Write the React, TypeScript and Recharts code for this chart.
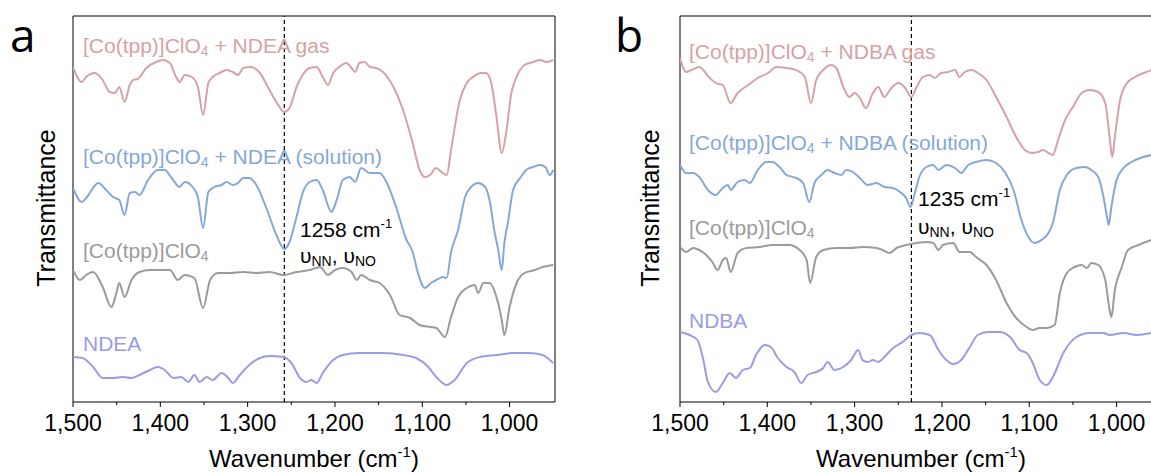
import React from 'react';
import { LineChart, Line, XAxis, YAxis, ReferenceLine } from 'recharts';

// Wavenumber (cm-1), transmittance (a.u., offset stacked)
const ndeaGas: [number, number][] = [[1500,335],[1490,320],[1485,325],[1475,329],[1466,322],[1458,310],[1452,309],[1447,315],[1441,300],[1435,317],[1431,322],[1426,323],[1416,334],[1405,340],[1397,342],[1389,339],[1382,325],[1378,320],[1372,327],[1364,325],[1357,315],[1351,287],[1345,319],[1340,325],[1332,329],[1324,332],[1317,330],[1311,327],[1305,334],[1296,335],[1286,329],[1275,312],[1265,297],[1258,290],[1252,294],[1244,315],[1237,327],[1229,334],[1221,335],[1214,325],[1208,317],[1202,329],[1195,335],[1187,339],[1181,334],[1177,330],[1172,339],[1166,340],[1160,335],[1153,334],[1145,330],[1133,315],[1122,292],[1111,259],[1103,232],[1097,225],[1091,227],[1084,234],[1078,230],[1072,227],[1067,252],[1057,302],[1049,319],[1042,325],[1032,329],[1027,329],[1021,319],[1015,285],[1009,249],[1004,269],[998,309],[992,325],[983,337],[973,340],[965,342],[958,340],[950,342]];
const ndeaSolution: [number, number][] = [[1500,214],[1490,200],[1485,204],[1471,219],[1462,212],[1454,205],[1447,202],[1441,187],[1435,209],[1429,210],[1424,207],[1414,222],[1403,232],[1395,232],[1387,224],[1378,215],[1372,220],[1363,215],[1357,205],[1351,174],[1345,210],[1338,215],[1330,217],[1324,220],[1317,217],[1311,219],[1305,224],[1298,224],[1290,217],[1279,195],[1267,167],[1258,153],[1252,160],[1244,185],[1237,209],[1229,220],[1221,222],[1214,212],[1204,190],[1198,202],[1191,222],[1183,225],[1177,220],[1170,234],[1160,229],[1149,229],[1141,220],[1130,195],[1118,162],[1111,150],[1105,129],[1097,114],[1090,119],[1084,122],[1076,125],[1072,124],[1067,150],[1059,172],[1051,205],[1044,215],[1036,219],[1028,215],[1023,202],[1017,169],[1013,152],[1009,132],[1006,159],[1002,179],[996,212],[988,224],[981,232],[973,235],[965,237],[959,235],[954,227],[950,232]];
const coTppA: [number, number][] = [[1500,132],[1492,122],[1485,127],[1477,130],[1466,115],[1456,95],[1450,110],[1447,119],[1441,105],[1433,122],[1424,130],[1412,132],[1401,132],[1389,132],[1380,122],[1372,127],[1361,124],[1351,94],[1343,122],[1334,129],[1321,129],[1305,130],[1290,129],[1275,130],[1259,127],[1244,130],[1229,132],[1217,135],[1208,127],[1200,132],[1191,134],[1181,130],[1175,122],[1170,127],[1160,122],[1149,119],[1137,107],[1126,87],[1114,84],[1103,77],[1091,75],[1084,74],[1074,65],[1067,85],[1059,105],[1049,114],[1040,117],[1036,109],[1030,119],[1023,119],[1015,105],[1009,82],[1006,67],[1000,95],[992,119],[983,129],[971,132],[962,135],[950,137]];
const ndea: [number, number][] = [[1500,45],[1489,44],[1477,35],[1466,24],[1454,24],[1443,25],[1433,24],[1424,27],[1412,32],[1403,35],[1395,32],[1385,24],[1376,25],[1368,20],[1361,27],[1355,20],[1347,25],[1340,22],[1330,29],[1322,24],[1317,19],[1309,27],[1298,37],[1286,44],[1275,46],[1259,45],[1250,39],[1240,24],[1233,20],[1227,22],[1221,19],[1214,29],[1202,42],[1191,47],[1172,49],[1145,49],[1122,47],[1107,44],[1093,35],[1084,25],[1072,17],[1063,22],[1049,39],[1034,45],[1015,47],[996,49],[979,49],[962,47],[954,42],[950,39]];

const ndbaGas: [number, number][] = [[1500,344],[1493,330],[1487,332],[1478,335],[1466,324],[1459,319],[1451,317],[1442,299],[1434,309],[1422,317],[1411,324],[1399,329],[1390,335],[1378,334],[1367,332],[1357,325],[1350,299],[1344,322],[1336,332],[1327,337],[1321,334],[1313,315],[1306,305],[1300,309],[1294,304],[1287,294],[1279,309],[1273,315],[1266,305],[1258,314],[1250,319],[1243,315],[1235,305],[1229,315],[1222,325],[1214,327],[1208,324],[1201,329],[1193,330],[1185,332],[1180,325],[1174,330],[1166,332],[1159,329],[1149,322],[1138,305],[1126,285],[1115,265],[1105,252],[1097,249],[1090,250],[1084,252],[1078,249],[1073,247],[1067,262],[1059,282],[1050,295],[1040,309],[1031,312],[1021,310],[1013,299],[1008,265],[1005,245],[1002,265],[996,302],[988,319],[979,325],[969,329],[960,332]];
const ndbaSolution: [number, number][] = [[1500,237],[1493,229],[1485,229],[1478,225],[1468,212],[1459,207],[1451,214],[1445,217],[1442,212],[1434,220],[1426,222],[1420,219],[1411,232],[1401,240],[1394,240],[1386,235],[1378,227],[1367,224],[1359,219],[1352,200],[1346,219],[1338,227],[1331,232],[1323,229],[1315,227],[1310,232],[1302,230],[1294,224],[1285,217],[1275,219],[1266,215],[1256,214],[1248,210],[1241,204],[1236,195],[1231,209],[1226,225],[1218,235],[1210,237],[1204,232],[1195,237],[1185,234],[1178,229],[1170,237],[1161,240],[1149,242],[1138,239],[1128,230],[1118,212],[1109,182],[1101,165],[1094,159],[1086,162],[1078,169],[1073,179],[1065,212],[1057,227],[1046,234],[1036,235],[1029,232],[1021,225],[1015,205],[1011,185],[1009,177],[1006,195],[1000,222],[992,234],[983,240],[973,244],[960,247]];
const coTppB: [number, number][] = [[1500,155],[1493,150],[1485,154],[1478,152],[1470,147],[1463,140],[1457,132],[1451,142],[1447,144],[1442,130],[1434,149],[1424,154],[1409,155],[1394,157],[1375,157],[1363,152],[1355,142],[1351,119],[1344,145],[1336,152],[1321,154],[1306,154],[1290,155],[1275,154],[1268,152],[1260,149],[1252,154],[1241,157],[1229,159],[1218,160],[1210,159],[1204,152],[1199,157],[1187,159],[1180,150],[1168,150],[1161,145],[1149,137],[1138,122],[1126,99],[1115,84],[1103,75],[1096,72],[1088,74],[1080,74],[1071,77],[1065,109],[1057,129],[1048,135],[1040,137],[1034,134],[1029,139],[1021,137],[1013,122],[1008,92],[1006,85],[1002,112],[994,135],[987,152],[975,157],[960,162]];
const ndba: [number, number][] = [[1500,70],[1489,67],[1480,62],[1474,45],[1468,20],[1459,10],[1451,19],[1443,29],[1436,24],[1428,32],[1420,34],[1413,47],[1403,57],[1396,55],[1388,44],[1378,35],[1369,30],[1361,19],[1354,27],[1344,30],[1336,34],[1331,40],[1323,32],[1313,35],[1304,42],[1296,52],[1291,42],[1285,40],[1279,42],[1273,40],[1266,45],[1256,54],[1245,60],[1235,67],[1226,69],[1214,67],[1204,52],[1195,42],[1187,38],[1178,42],[1168,55],[1159,67],[1147,70],[1134,70],[1122,65],[1111,52],[1103,49],[1096,39],[1088,22],[1080,17],[1073,25],[1061,49],[1046,65],[1031,69],[1015,69],[1008,67],[992,69],[977,67],[960,69]];

const xTicks = [1500, 1450, 1400, 1350, 1300, 1250, 1200, 1150, 1100, 1050, 1000];
const markerA = 1258;
const markerB = 1235;

const COLORS = { gas: '#d4a2a8', solution: '#84a9d6', base: '#9b9b9b', free: '#9b9be6' };
const FONT = '"Liberation Sans", Arial, Helvetica, sans-serif';

const toPts = (arr: [number, number][]) => arr.map(([w, v]) => ({ w, v }));

const Tick = (props: any) => {
  const { x, y, payload } = props;
  const major = payload.value % 100 === 0;
  return (
    <g>
      <line x1={x} x2={x} y1={y} y2={y + (major ? 5 : 3)} stroke="#000" strokeWidth={1} />
      {major && (
        <text x={x} y={y + 29} textAnchor="middle" fontSize={23} fontFamily={FONT} fill="#000">
          {payload.value.toLocaleString('en-US')}
        </text>
      )}
    </g>
  );
};

const Panel = ({ series, marker, showRight }: { series: { data: [number, number][]; color: string }[]; marker: number; showRight: boolean }) => (
  <LineChart width={570} height={473} margin={{ top: 16, right: 15, bottom: 0, left: 73 }}>
    <XAxis
      type="number"
      dataKey="w"
      domain={[948, 1500]}
      reversed
      allowDataOverflow
      ticks={xTicks}
      interval={0}
      tick={<Tick />}
      tickLine={false}
      tickSize={0}
      tickMargin={0}
      height={71}
      axisLine={{ stroke: '#000', strokeWidth: 1 }}
    />
    <YAxis type="number" domain={[0, 386]} allowDataOverflow width={0} tick={false} tickLine={false} axisLine={{ stroke: '#000', strokeWidth: 1 }} />
    <ReferenceLine y={386} stroke="#000" strokeWidth={1} />
    <ReferenceLine x={1500} stroke="#000" strokeWidth={1} />
    {showRight && <ReferenceLine x={948} stroke="#000" strokeWidth={1} />}
    <ReferenceLine x={marker} stroke="#000" strokeWidth={1.2} strokeDasharray="4 3" />
    {series.map((s, i) => (
      <Line
        key={i}
        data={toPts(s.data)}
        dataKey="v"
        type="monotone"
        stroke={s.color}
        strokeWidth={2}
        dot={false}
        activeDot={false}
        isAnimationActive={false}
      />
    ))}
  </LineChart>
);

const Sub = ({ children }: { children: string }) => (
  <tspan fontSize={14} dy={3}>{children}</tspan>
);

const Label = ({ x, y, color, name }: { x: number; y: number; color: string; name: string }) => (
  <text x={x} y={y} fontSize={21} fontFamily={FONT} fill={color}>
    [Co(tpp)]ClO<Sub>4</Sub>
    <tspan dy={-3}>{name}</tspan>
  </text>
);

export default function App() {
  return (
    <div style={{ position: 'absolute', left: 0, top: 0, width: 1151, height: 473, overflow: 'hidden', background: '#fff' }}>
      <div style={{ position: 'absolute', left: 0, top: 0 }}>
        <Panel
          marker={markerA}
          showRight
          series={[
            { data: ndeaGas, color: COLORS.gas },
            { data: ndeaSolution, color: COLORS.solution },
            { data: coTppA, color: COLORS.base },
            { data: ndea, color: COLORS.free },
          ]}
        />
      </div>
      <div style={{ position: 'absolute', left: 607, top: 0 }}>
        <Panel
          marker={markerB}
          showRight={false}
          series={[
            { data: ndbaGas, color: COLORS.gas },
            { data: ndbaSolution, color: COLORS.solution },
            { data: coTppB, color: COLORS.base },
            { data: ndba, color: COLORS.free },
          ]}
        />
      </div>
      <svg width={1151} height={473} style={{ position: 'absolute', left: 0, top: 0, pointerEvents: 'none' }}>
        <text x={10} y={52} fontSize={46} fontFamily='"Open Sans", sans-serif' fill="#000">a</text>
        <text x={615} y={52} fontSize={46} fontFamily='"Open Sans", sans-serif' fill="#000">b</text>

        <text transform="translate(55,208) rotate(-90)" textAnchor="middle" fontSize={25} fontFamily={FONT} fill="#000">Transmittance</text>
        <text transform="translate(659,208) rotate(-90)" textAnchor="middle" fontSize={25} fontFamily={FONT} fill="#000">Transmittance</text>

        <text x={314} y={467} textAnchor="middle" fontSize={24} fontFamily={FONT} fill="#000">
          Wavenumber (cm<tspan fontSize={15} dy={-10}>-1</tspan><tspan dy={10}>)</tspan>
        </text>
        <text x={921} y={467} textAnchor="middle" fontSize={24} fontFamily={FONT} fill="#000">
          Wavenumber (cm<tspan fontSize={15} dy={-10}>-1</tspan><tspan dy={10}>)</tspan>
        </text>

        <Label x={83} y={53} color={COLORS.gas} name=" + NDEA gas" />
        <Label x={83} y={164} color={COLORS.solution} name=" + NDEA (solution)" />
        <Label x={83} y={258} color={COLORS.base} name="" />
        <text x={83} y={351} fontSize={21} fontFamily={FONT} fill={COLORS.free}>NDEA</text>

        <Label x={689} y={59} color={COLORS.gas} name=" + NDBA gas" />
        <Label x={689} y={150} color={COLORS.solution} name=" + NDBA (solution)" />
        <Label x={689} y={235} color={COLORS.base} name="" />
        <text x={689} y={328} fontSize={21} fontFamily={FONT} fill={COLORS.free}>NDBA</text>

        <text x={300} y={237} fontSize={21} fontFamily={FONT} fill="#000">
          1258 cm<tspan fontSize={13} dy={-9}>-1</tspan>
        </text>
        <text x={300} y={263} fontSize={21} fontFamily={FONT} fill="#000">
          υ<tspan fontSize={14} dy={3}>NN</tspan><tspan dy={-3}>, υ</tspan><tspan fontSize={14} dy={3}>NO</tspan>
        </text>
        <text x={918} y={206} fontSize={21} fontFamily={FONT} fill="#000">
          1235 cm<tspan fontSize={13} dy={-9}>-1</tspan>
        </text>
        <text x={918} y={234} fontSize={21} fontFamily={FONT} fill="#000">
          υ<tspan fontSize={14} dy={3}>NN</tspan><tspan dy={-3}>, υ</tspan><tspan fontSize={14} dy={3}>NO</tspan>
        </text>
      </svg>
    </div>
  );
}
